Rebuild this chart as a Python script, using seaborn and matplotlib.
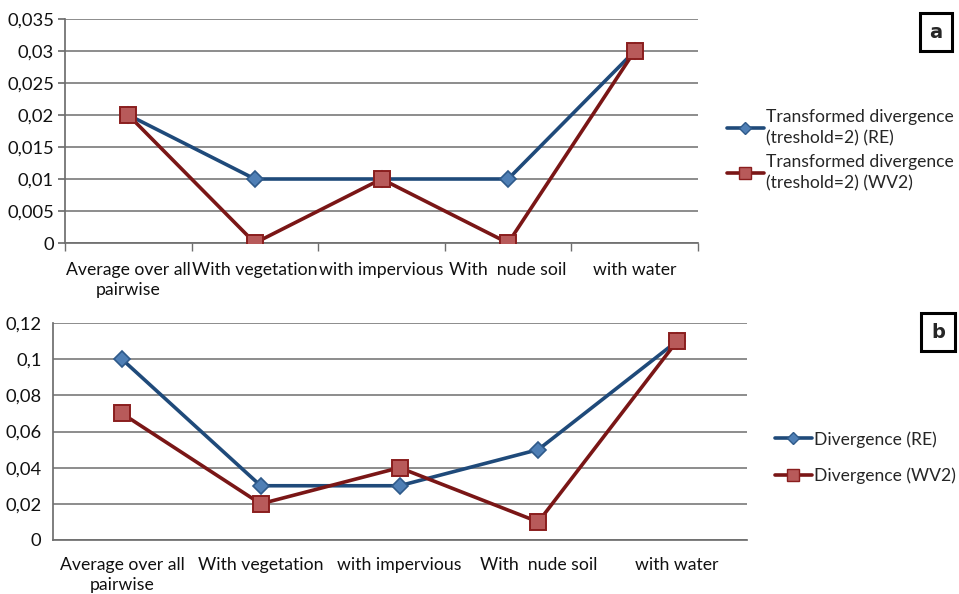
import matplotlib
matplotlib.use("Agg")
import matplotlib.pyplot as plt
import seaborn as sns
import pandas as pd
from matplotlib.lines import Line2D

categories = ["Average over all\npairwise", "With vegetation", "with impervious",
              "With  nude soil", "with water"]

td_re = [0.02, 0.01, 0.01, 0.01, 0.03]
td_wv2 = [0.02, 0.0, 0.01, 0.0, 0.03]
div_re = [0.10, 0.03, 0.03, 0.05, 0.11]
div_wv2 = [0.07, 0.02, 0.04, 0.01, 0.11]

yticks_a = [0, 0.005, 0.01, 0.015, 0.02, 0.025, 0.03, 0.035]
ytick_labels_a = ["0", "0,005", "0,01", "0,015", "0,02", "0,025", "0,03", "0,035"]
yticks_b = [0, 0.02, 0.04, 0.06, 0.08, 0.10, 0.12]
ytick_labels_b = ["0", "0,02", "0,04", "0,06", "0,08", "0,1", "0,12"]

labels_a = ["Transformed divergence\n(treshold=2) (RE)",
            "Transformed divergence\n(treshold=2) (WV2)"]
labels_b = ["Divergence (RE)", "Divergence (WV2)"]

sns.set_theme(style="white")
plt.rcParams["font.family"] = ["Lato", "DejaVu Sans"]
FS_X = 12.7
FS_Y = 13.2
FS_L = 12.6

BLUE_LINE = "#1f4a7a"
BLUE_FACE = "#4f7fb5"
BLUE_EDGE = "#2f5a8a"
RED_LINE = "#7a1616"
RED_FACE = "#b85a5a"
RED_EDGE = "#8a1e1e"
GRID = "#6e6e6e"

fig = plt.figure(figsize=(9.59, 5.94), dpi=100)
ax_a = fig.add_axes([65 / 959, 1 - 243 / 594, (698 - 65) / 959, (243 - 19) / 594])
ax_b = fig.add_axes([52.5 / 959, 1 - 540 / 594, (746.5 - 52.5) / 959, (540 - 323) / 594])


def draw(ax, re_vals, wv_vals):
    df = pd.DataFrame({"pos": list(range(len(categories))) * 2,
                       "value": re_vals + wv_vals,
                       "series": ["RE"] * len(re_vals) + ["WV2"] * len(wv_vals)})
    sns.lineplot(data=df[df.series == "RE"], x="pos", y="value", ax=ax,
                 color=BLUE_LINE, lw=2.6, marker="D", markersize=8,
                 markerfacecolor=BLUE_FACE, markeredgecolor=BLUE_EDGE,
                 markeredgewidth=1.2, legend=False, zorder=4)
    sns.lineplot(data=df[df.series == "WV2"], x="pos", y="value", ax=ax,
                 color=RED_LINE, lw=2.6, marker="s", markersize=11,
                 markerfacecolor=RED_FACE, markeredgecolor=RED_EDGE,
                 markeredgewidth=1.4, legend=False, zorder=5)
    ax.set_xlim(-0.5, len(categories) - 0.5)
    ax.set_xlabel("")
    ax.set_ylabel("")
    ax.set_xticks(range(len(categories)))
    ax.set_xticklabels(categories, fontsize=FS_X, color="#111111", linespacing=1.3)
    ax.yaxis.grid(True, color=GRID, lw=1.1)
    ax.set_axisbelow(True)
    for s in ["top", "right"]:
        ax.spines[s].set_visible(False)


draw(ax_a, td_re, td_wv2)
ax_a.set_ylim(0, 0.035)
ax_a.set_yticks(yticks_a)
ax_a.set_yticklabels(ytick_labels_a, fontsize=FS_Y, color="#111111")
ax_a.spines["left"].set_color(GRID)
ax_a.spines["bottom"].set_color(GRID)
ax_a.tick_params(axis="y", length=5, color=GRID, left=True, pad=3)
ax_a.tick_params(axis="x", length=0, pad=14)
# boundary tick marks between categories
ax_a.set_xticks([i - 0.5 for i in range(len(categories) + 1)], minor=True)
ax_a.tick_params(axis="x", which="minor", length=6, color=GRID, bottom=True)

draw(ax_b, div_re, div_wv2)
ax_b.set_ylim(0, 0.12)
ax_b.set_yticks(yticks_b)
ax_b.set_yticklabels(ytick_labels_b, fontsize=FS_Y, color="#111111")
ax_b.spines["left"].set_color(GRID)
ax_b.spines["bottom"].set_color(GRID)
ax_b.tick_params(axis="y", length=0, pad=8)
ax_b.tick_params(axis="x", length=0, pad=12)


def legend_handles():
    return [Line2D([], [], color=BLUE_LINE, lw=2.6, marker="D", markersize=6,
                   markerfacecolor=BLUE_FACE, markeredgecolor=BLUE_EDGE),
            Line2D([], [], color=RED_LINE, lw=2.6, marker="s", markersize=8,
                   markerfacecolor=RED_FACE, markeredgecolor=RED_EDGE)]


leg_a = fig.legend(legend_handles(), labels_a, loc="upper left",
                   bbox_to_anchor=(727 / 959, 1 - 109 / 594), frameon=False,
                   fontsize=FS_L, handlelength=2.1, handletextpad=0.15,
                   labelspacing=0.45, borderpad=0, borderaxespad=0)
for t in leg_a.get_texts():
    t.set_linespacing(1.4)

fig.legend(legend_handles(), labels_b, loc="upper left",
           bbox_to_anchor=(775 / 959, 1 - 431 / 594), frameon=False,
           fontsize=FS_L, handlelength=2.1, handletextpad=0.15, labelspacing=1.12,
           borderpad=0, borderaxespad=0)

for txt, (x, y) in [("a", (936, 32)), ("b", (938, 332))]:
    fig.text(x / 959, 1 - y / 594, txt, ha="center", va="center",
             fontsize=14, fontweight="bold", family="DejaVu Sans",
             bbox=dict(boxstyle="square,pad=0.5", fc="white", ec="black", lw=2.2))

fig.savefig("out.png", dpi=100)
